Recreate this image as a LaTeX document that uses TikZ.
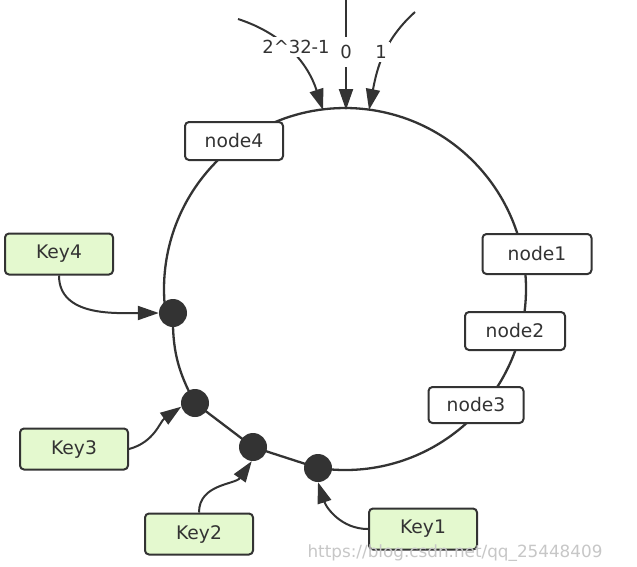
\documentclass[tikz,border=0pt]{standalone}
\usepackage{fontspec}
\setmainfont{DejaVu Sans}
\usetikzlibrary{arrows.meta,calc}
\definecolor{ink}{HTML}{333333}
\definecolor{keyfill}{RGB}{228,249,207}
\begin{document}
\begin{tikzpicture}[x=1pt,y=1pt,
  ring/.style={draw=ink,line width=2.3pt},
  box/.style={draw=ink,line width=2pt,rounded corners=4pt,fill=white,inner sep=0pt,text=ink,font=\fontsize{18.7}{20}\selectfont},
  keybox/.style={box,fill=keyfill},
  dot/.style={circle,fill=ink,inner sep=0pt,minimum size=28pt},
  arr/.style={draw=ink,line width=2pt,-{Triangle[length=21pt,width=14pt]}},
  lbl/.style={text=ink,fill=white,font=\fontsize{18}{20}\selectfont,inner sep=3pt}]

\useasboundingbox (0,0) rectangle (637,-566);
\fill[white] (0,0) rectangle (637,-566);

% ring
\coordinate (C) at (345,-289);
\coordinate (p1) at (318,-468);
\coordinate (p2) at (253,-447);
\coordinate (p3) at (195,-403);
\coordinate (p4) at (173,-313);
\draw[ring] ($(C)+(-98.6:181)$) arc[start angle=-98.6, end angle=187.9, radius=181];
\draw[ring] (p4) to[bend right=15] (p3) -- (p2) -- (p1);

% server nodes
\node[box,minimum width=98pt,minimum height=38pt] (n4) at (234,-141) {node4};
\node[box,minimum width=109pt,minimum height=40pt] (n1) at (537,-254) {node1};
\node[box,minimum width=100pt,minimum height=38pt] (n2) at (515,-331) {node2};
\node[box,minimum width=95pt,minimum height=36pt] (n3) at (476,-405) {node3};

% key dots
\node[dot] (d1) at (p1) {};
\node[dot] (d2) at (p2) {};
\node[dot] (d3) at (p3) {};
\node[dot] (d4) at (p4) {};

% keys
\node[keybox,minimum width=108pt,minimum height=41pt] (k4) at (59,-254) {Key4};
\node[keybox,minimum width=108pt,minimum height=41pt] (k3) at (74,-449) {Key3};
\node[keybox,minimum width=108pt,minimum height=41pt] (k2) at (199,-534) {Key2};
\node[keybox,minimum width=108pt,minimum height=41pt] (k1) at (423,-529) {Key1};

\draw[arr] (k4.south) to[out=-90,in=180] (d4.west);
\draw[arr] (k3.east) to[out=15,in=215] (d3.195);
\draw[arr] (k2.north) to[out=90,in=235] (d2.-95);
\draw[arr] (k1.west) to[out=180,in=288] (d1.south);

% hash space markers
\coordinate (s0) at (346,0);
\coordinate (t0) at (346,-110);
\coordinate (s1) at (238,-19);
\coordinate (t1) at (323,-110);
\coordinate (s2) at (415,-12);
\coordinate (t2) at (369,-110);
\draw[arr] (s0) -- (t0);
\draw[arr] (s1) to[out=-18,in=108] (t1);
\draw[arr] (s2) to[out=222,in=79] (t2);
\node[lbl,inner ysep=8pt] (l0) at (346,-52) {0};
\node[lbl] (l1) at (296,-47) {2\char94 32-1};
\node[lbl] (l2) at (381,-52) {1};

% watermark
\node[text=black!22,font=\fontsize{16.8}{18}\selectfont,inner sep=0pt] (wm) at (455,-553) {https://blog.csdn.net/qq\_25448409};
\end{tikzpicture}
\end{document}
